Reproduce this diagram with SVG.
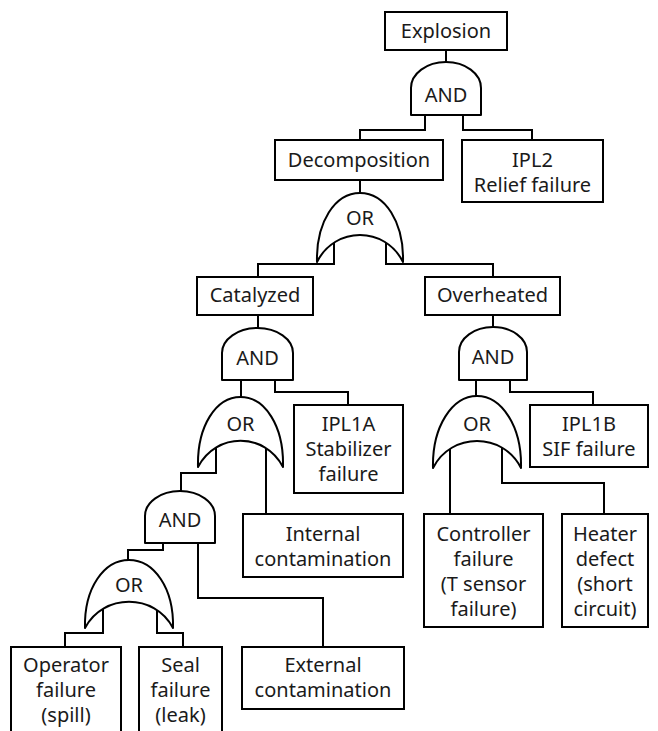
<svg xmlns="http://www.w3.org/2000/svg" width="658" height="731" viewBox="0 0 658 731">
<style>
.b{fill:#fff;stroke:#000;stroke-width:2}
.g{fill:#fff;stroke:#000;stroke-width:2;stroke-linejoin:round}
.c{fill:none;stroke:#000;stroke-width:2}
text{font-family:"Noto Sans","Open Sans",sans-serif;font-size:20px;fill:#1a1a1a;text-anchor:middle}
</style>
<rect width="658" height="731" fill="#fff"/>
<g id="connectors">
<path class="c" d="M446,50V64"/>
<path class="c" d="M425,110V130H360V140M463,110V130H532V140"/>
<path class="c" d="M360,180V194"/>
<path class="c" d="M334,240V264H258V277M386,240V264H493V277"/>
<path class="c" d="M258,315V330"/>
<path class="c" d="M241,375V398M275,375V392H348V405"/>
<path class="c" d="M216,445V473H181V492"/>
<path class="c" d="M266,445V514"/>
<path class="c" d="M493,315V329"/>
<path class="c" d="M476,375V397M510,375V392H593V405"/>
<path class="c" d="M450,445V514M502,445V483H604V514"/>
<path class="c" d="M163,538V550H128V561M198,538V598H323V647"/>
<path class="c" d="M103,605V633H65V647M157,605V633H183V647"/>
</g>
<g id="explosion"><rect class="b" x="385" y="12" width="122" height="38"/><text x="446" y="38">Explosion</text></g>
<g id="and-top"><path class="g" d="M411,115V88A35,26 0 0 1 481,88V115Z"/><text x="446" y="102">AND</text></g>
<g id="decomposition"><rect class="b" x="275" y="140" width="168" height="40"/><text x="359" y="167">Decomposition</text></g>
<g id="ipl2"><rect class="b" x="462" y="140" width="141" height="62"/><text x="532.5" y="167">IPL2</text><text x="532.5" y="192">Relief failure</text></g>
<g id="or-center"><path class="g" d="M317,262C316,222 335,193 360,193C385,193 404,222 403,262C385,226 335,226 317,262Z"/><text x="360" y="225">OR</text></g>
<g id="catalyzed"><rect class="b" x="197" y="277" width="116" height="38"/><text x="255" y="302">Catalyzed</text></g>
<g id="overheated"><rect class="b" x="425" y="277" width="135" height="38"/><text x="492.5" y="302">Overheated</text></g>
<g id="and-catalyzed"><path class="g" d="M222,380V353A35.5,25 0 0 1 293,353V380Z"/><text x="257.5" y="365">AND</text></g>
<g id="ipl1a"><rect class="b" x="294" y="405" width="109" height="88"/><text x="348.5" y="431">IPL1A</text><text x="348.5" y="456">Stabilizer</text><text x="348.5" y="481">failure</text></g>
<g id="or-catalyzed"><path class="g" d="M198,467C197,426 216,397 240.5,397C265,397 284,426 283,467C265,432 216,432 198,467Z"/><text x="240.5" y="431">OR</text></g>
<g id="and-lower"><path class="g" d="M145,543V516A35,25 0 0 1 215,516V543Z"/><text x="180" y="527">AND</text></g>
<g id="internal"><rect class="b" x="243" y="514" width="160" height="63"/><text x="323" y="541">Internal</text><text x="323" y="566">contamination</text></g>
<g id="or-lower"><path class="g" d="M85,628C84,588 104,560 129,560C154,560 174,588 173,628C155,593 103,593 85,628Z"/><text x="129" y="592">OR</text></g>
<g id="operator"><rect class="b" x="11" y="647" width="110" height="95"/><text x="66" y="672">Operator</text><text x="66" y="697">failure</text><text x="66" y="722">(spill)</text></g>
<g id="seal"><rect class="b" x="139" y="647" width="83" height="95"/><text x="180.5" y="672">Seal</text><text x="180.5" y="697">failure</text><text x="180.5" y="722">(leak)</text></g>
<g id="external"><rect class="b" x="242" y="647" width="162" height="62"/><text x="323" y="672">External</text><text x="323" y="697">contamination</text></g>
<g id="and-overheated"><path class="g" d="M459,380V352A34,25 0 0 1 527,352V380Z"/><text x="493" y="364">AND</text></g>
<g id="ipl1b"><rect class="b" x="530" y="405" width="118" height="62"/><text x="589" y="431">IPL1B</text><text x="589" y="456">SIF failure</text></g>
<g id="or-overheated"><path class="g" d="M433,468C432,427 452,396 477,396C502,396 522,427 521,468C503,432 451,432 433,468Z"/><text x="477" y="431">OR</text></g>
<g id="controller"><rect class="b" x="424" y="514" width="119" height="113"/><text x="483.5" y="541">Controller</text><text x="483.5" y="566">failure</text><text x="483.5" y="591">(T sensor</text><text x="483.5" y="616">failure)</text></g>
<g id="heater"><rect class="b" x="562" y="514" width="86" height="113"/><text x="605" y="541">Heater</text><text x="605" y="566">defect</text><text x="605" y="591">(short</text><text x="605" y="616">circuit)</text></g>
</svg>
